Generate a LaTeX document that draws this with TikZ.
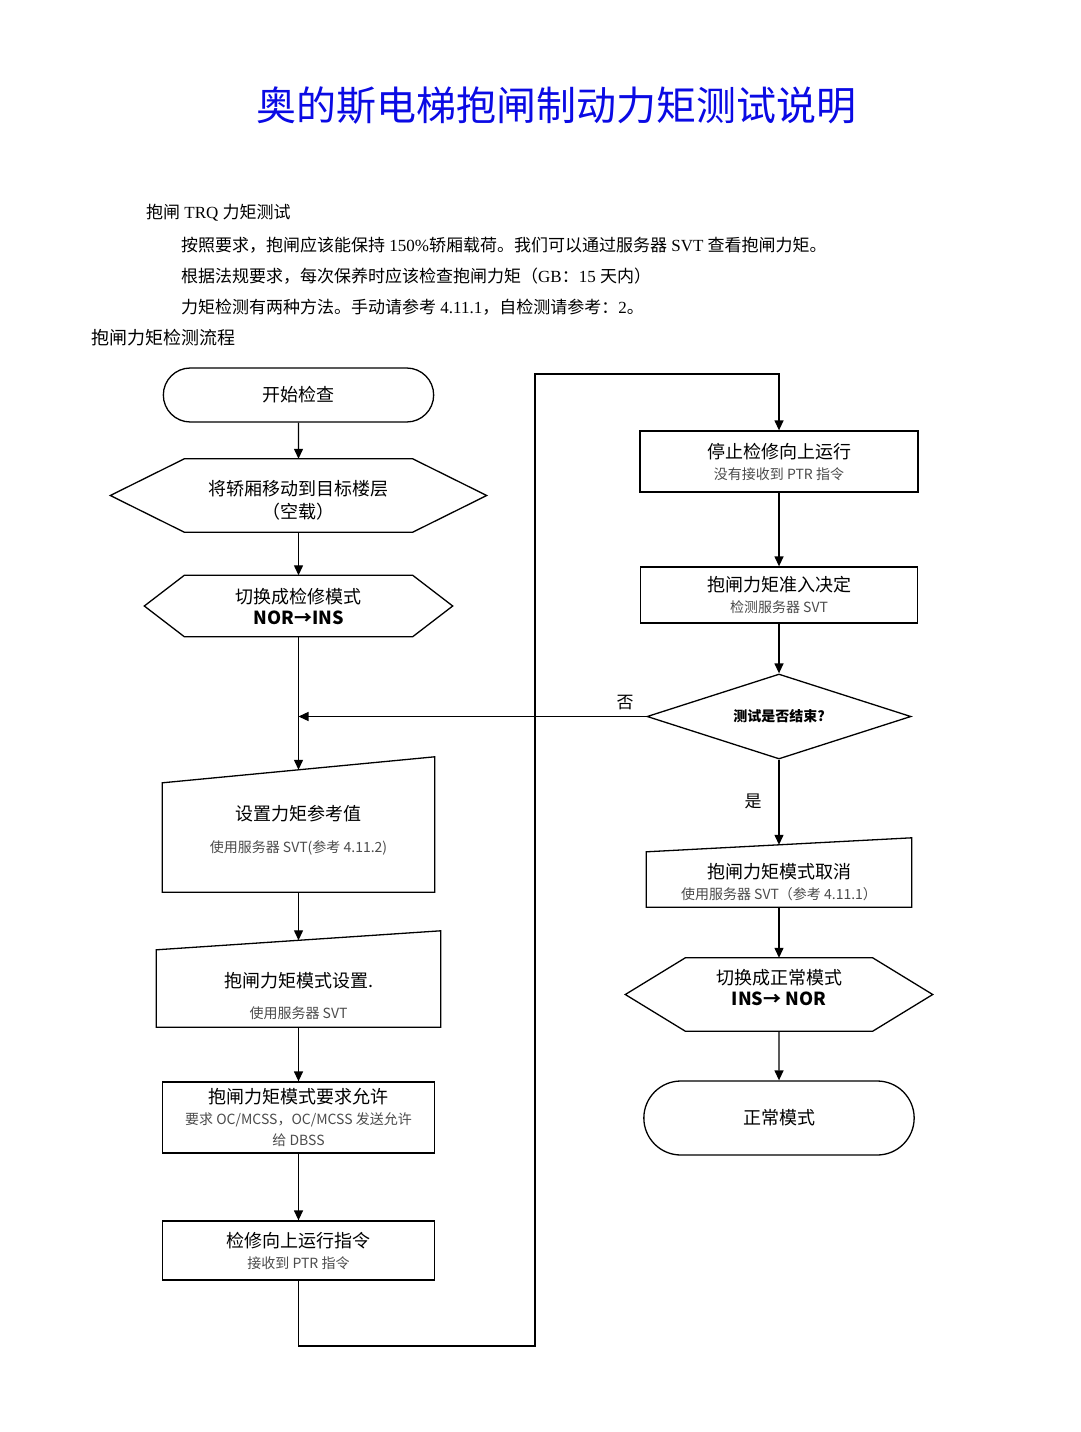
\documentclass[tikz,border=0pt]{standalone}
\usepackage{fontspec}
\setmainfont{Noto Sans CJK SC}
\newfontfamily\hw{Liberation Serif}
\usetikzlibrary{shapes.geometric,shapes.misc,arrows.meta}
\definecolor{titleblue}{RGB}{10,10,228}
\definecolor{subgray}{RGB}{75,75,75}
\newcommand{\hsz}{\fontsize{18}{21}\selectfont}
\newcommand{\ssz}{\fontsize{14}{18}\selectfont\color{subgray}}
\newcommand{\hexline}[2]{\draw[conn] (#1.west) -- ([xshift=#2]#1.north west) -- ([xshift=-#2]#1.north east) -- (#1.east) -- ([xshift=-#2]#1.south east) -- ([xshift=#2]#1.south west) -- cycle;}
\newcommand{\trapline}[3]{\draw[conn] (#1.south west) -- ([yshift=#2]#1.north west) -- ([yshift=#3]#1.north east) -- (#1.south east) -- cycle;}
\tikzstyle{txt} = [inner sep=0pt, anchor=west, font=\fontsize{17}{20}\selectfont]
\tikzstyle{conn} = [line width=1.3pt]
\tikzstyle{arr} = [conn, -{Triangle[length=10pt,width=9pt]}]
\tikzstyle{term} = [draw, conn, rounded rectangle, minimum width=277pt, font=\hsz]
\tikzstyle{proc} = [draw, conn, rectangle, align=center, inner sep=1pt, font=\hsz]
\tikzstyle{shp} = [rectangle, align=center, inner sep=0pt, font=\hsz]
\tikzstyle{dec} = [draw, conn, diamond, aspect=3.1, inner sep=0pt, minimum width=264pt, minimum height=85pt, font=\bfseries\fontsize{14}{16}\selectfont]

\begin{document}
\begin{tikzpicture}[x=1pt,y=-1pt]
  \useasboundingbox (0,0) rectangle (1080,1432);
  % heading and notes
  \node[font=\fontsize{40}{44}\selectfont, text=titleblue] (title) at (556,106) {奥的斯电梯抱闸制动力矩测试说明};
  \node[txt] (head) at (146,213) {抱闸{\hw\ TRQ }力矩测试};
  \node[txt] (req1) at (181,245) {按照要求，抱闸应该能保持{\hw\ 150\%}轿厢载荷。我们可以通过服务器{\hw\ SVT }查看抱闸力矩。};
  \node[txt] (req2) at (181,276) {根据法规要求，每次保养时应该检查抱闸力矩（{\hw GB}：{\hw 15 }天内）};
  \node[txt] (req3) at (181,307) {力矩检测有两种方法。手动请参考{\hw\ 4.11.1}，自检测请参考：{\hw 2}。};
  \node[txt, font=\fontsize{18}{20}\selectfont] (flow) at (91,338) {抱闸力矩检测流程};
  % left column
  \node[term, minimum height=54pt] (start) at (298.5,395) {开始检查};
  \node[shp, minimum width=376pt, minimum height=73pt] (move) at (298.5,495.5) {};
  \node[shp] (movetxt) at (298.5,500.5) {将轿厢移动到目标楼层\\[2pt]（空载）};
  \hexline{move}{74}
  \node[shp, minimum width=308pt, minimum height=61pt] (toins) at (298.5,606) {切换成检修模式\\\textbf{NOR→INS}};
  \hexline{toins}{40}
  \node[shp, minimum width=272pt, minimum height=124pt] (setref) at (298.5,830) {设置力矩参考值\\[11pt]{\ssz 使用服务器 SVT(参考 4.11.2)}};
  \trapline{setref}{-15}{11}
  \node[shp, minimum width=284pt, minimum height=62pt] (setmode) at (298.5,996) {抱闸力矩模式设置.\\[10pt]{\ssz 使用服务器 SVT}};
  \trapline{setmode}{15}{34}
  \node[proc, minimum width=272pt, minimum height=71pt] (permit) at (298.5,1117.5) {抱闸力矩模式要求允许\\{\ssz 要求 OC/MCSS，OC/MCSS 发送允许}\\{\ssz 给 DBSS}};
  \node[proc, minimum width=272pt, minimum height=59pt] (runup) at (298.5,1250.5) {检修向上运行指令\\{\ssz 接收到 PTR 指令}};
  % right column
  \node[proc, minimum width=278pt, minimum height=61pt] (stopup) at (779,461.5) {停止检修向上运行\\{\ssz 没有接收到 PTR 指令}};
  \node[proc, minimum width=277pt, minimum height=56pt] (admit) at (779,595) {抱闸力矩准入决定\\{\ssz 检测服务器 SVT}};
  \node[dec] (done) at (779,716.5) {测试是否结束?};
  \node[shp, minimum width=265pt, minimum height=49pt] (cancel) at (779,882.5) {抱闸力矩模式取消\\{\ssz 使用服务器 SVT（参考 4.11.1）}};
  \trapline{cancel}{6}{20}
  \node[shp, minimum width=307pt, minimum height=73pt] (tonor) at (779,994.5) {};
  \node[shp] (tonortxt) at (779,987.5) {切换成正常模式\\\textbf{INS→ NOR}};
  \hexline{tonor}{60}
  \node[term, minimum height=74pt] (normal) at (779,1118) {正常模式};
  \node[font=\fontsize{17}{20}\selectfont] (no) at (625,703) {否};
  \node[font=\fontsize{17}{20}\selectfont] (yes) at (753,801) {是};
  \coordinate (loopbot) at (535,1346);
  \coordinate (looptop) at (535,374);
  \coordinate (join) at (298.5,716.5);
  % connectors
  \draw[arr] (start) -- (move);
  \draw[arr] (move) -- (toins);
  \draw[arr] (toins) -- ([yshift=-2]setref.north);
  \draw[arr] (setref) -- ([yshift=24.5]setmode.north);
  \draw[arr] (setmode) -- (permit);
  \draw[arr] (permit) -- (runup);
  \draw[arr] (runup.south) |- (loopbot) -- (looptop) -| (stopup.north);
  \draw[arr] (stopup) -- (admit);
  \draw[arr] (admit) -- (done);
  \draw[arr] (done.west) -- (join);
  \draw[arr] (done) -- ([yshift=13]cancel.north);
  \draw[arr] (cancel) -- (tonor);
  \draw[arr] (tonor) -- (normal);
\end{tikzpicture}
\end{document}
